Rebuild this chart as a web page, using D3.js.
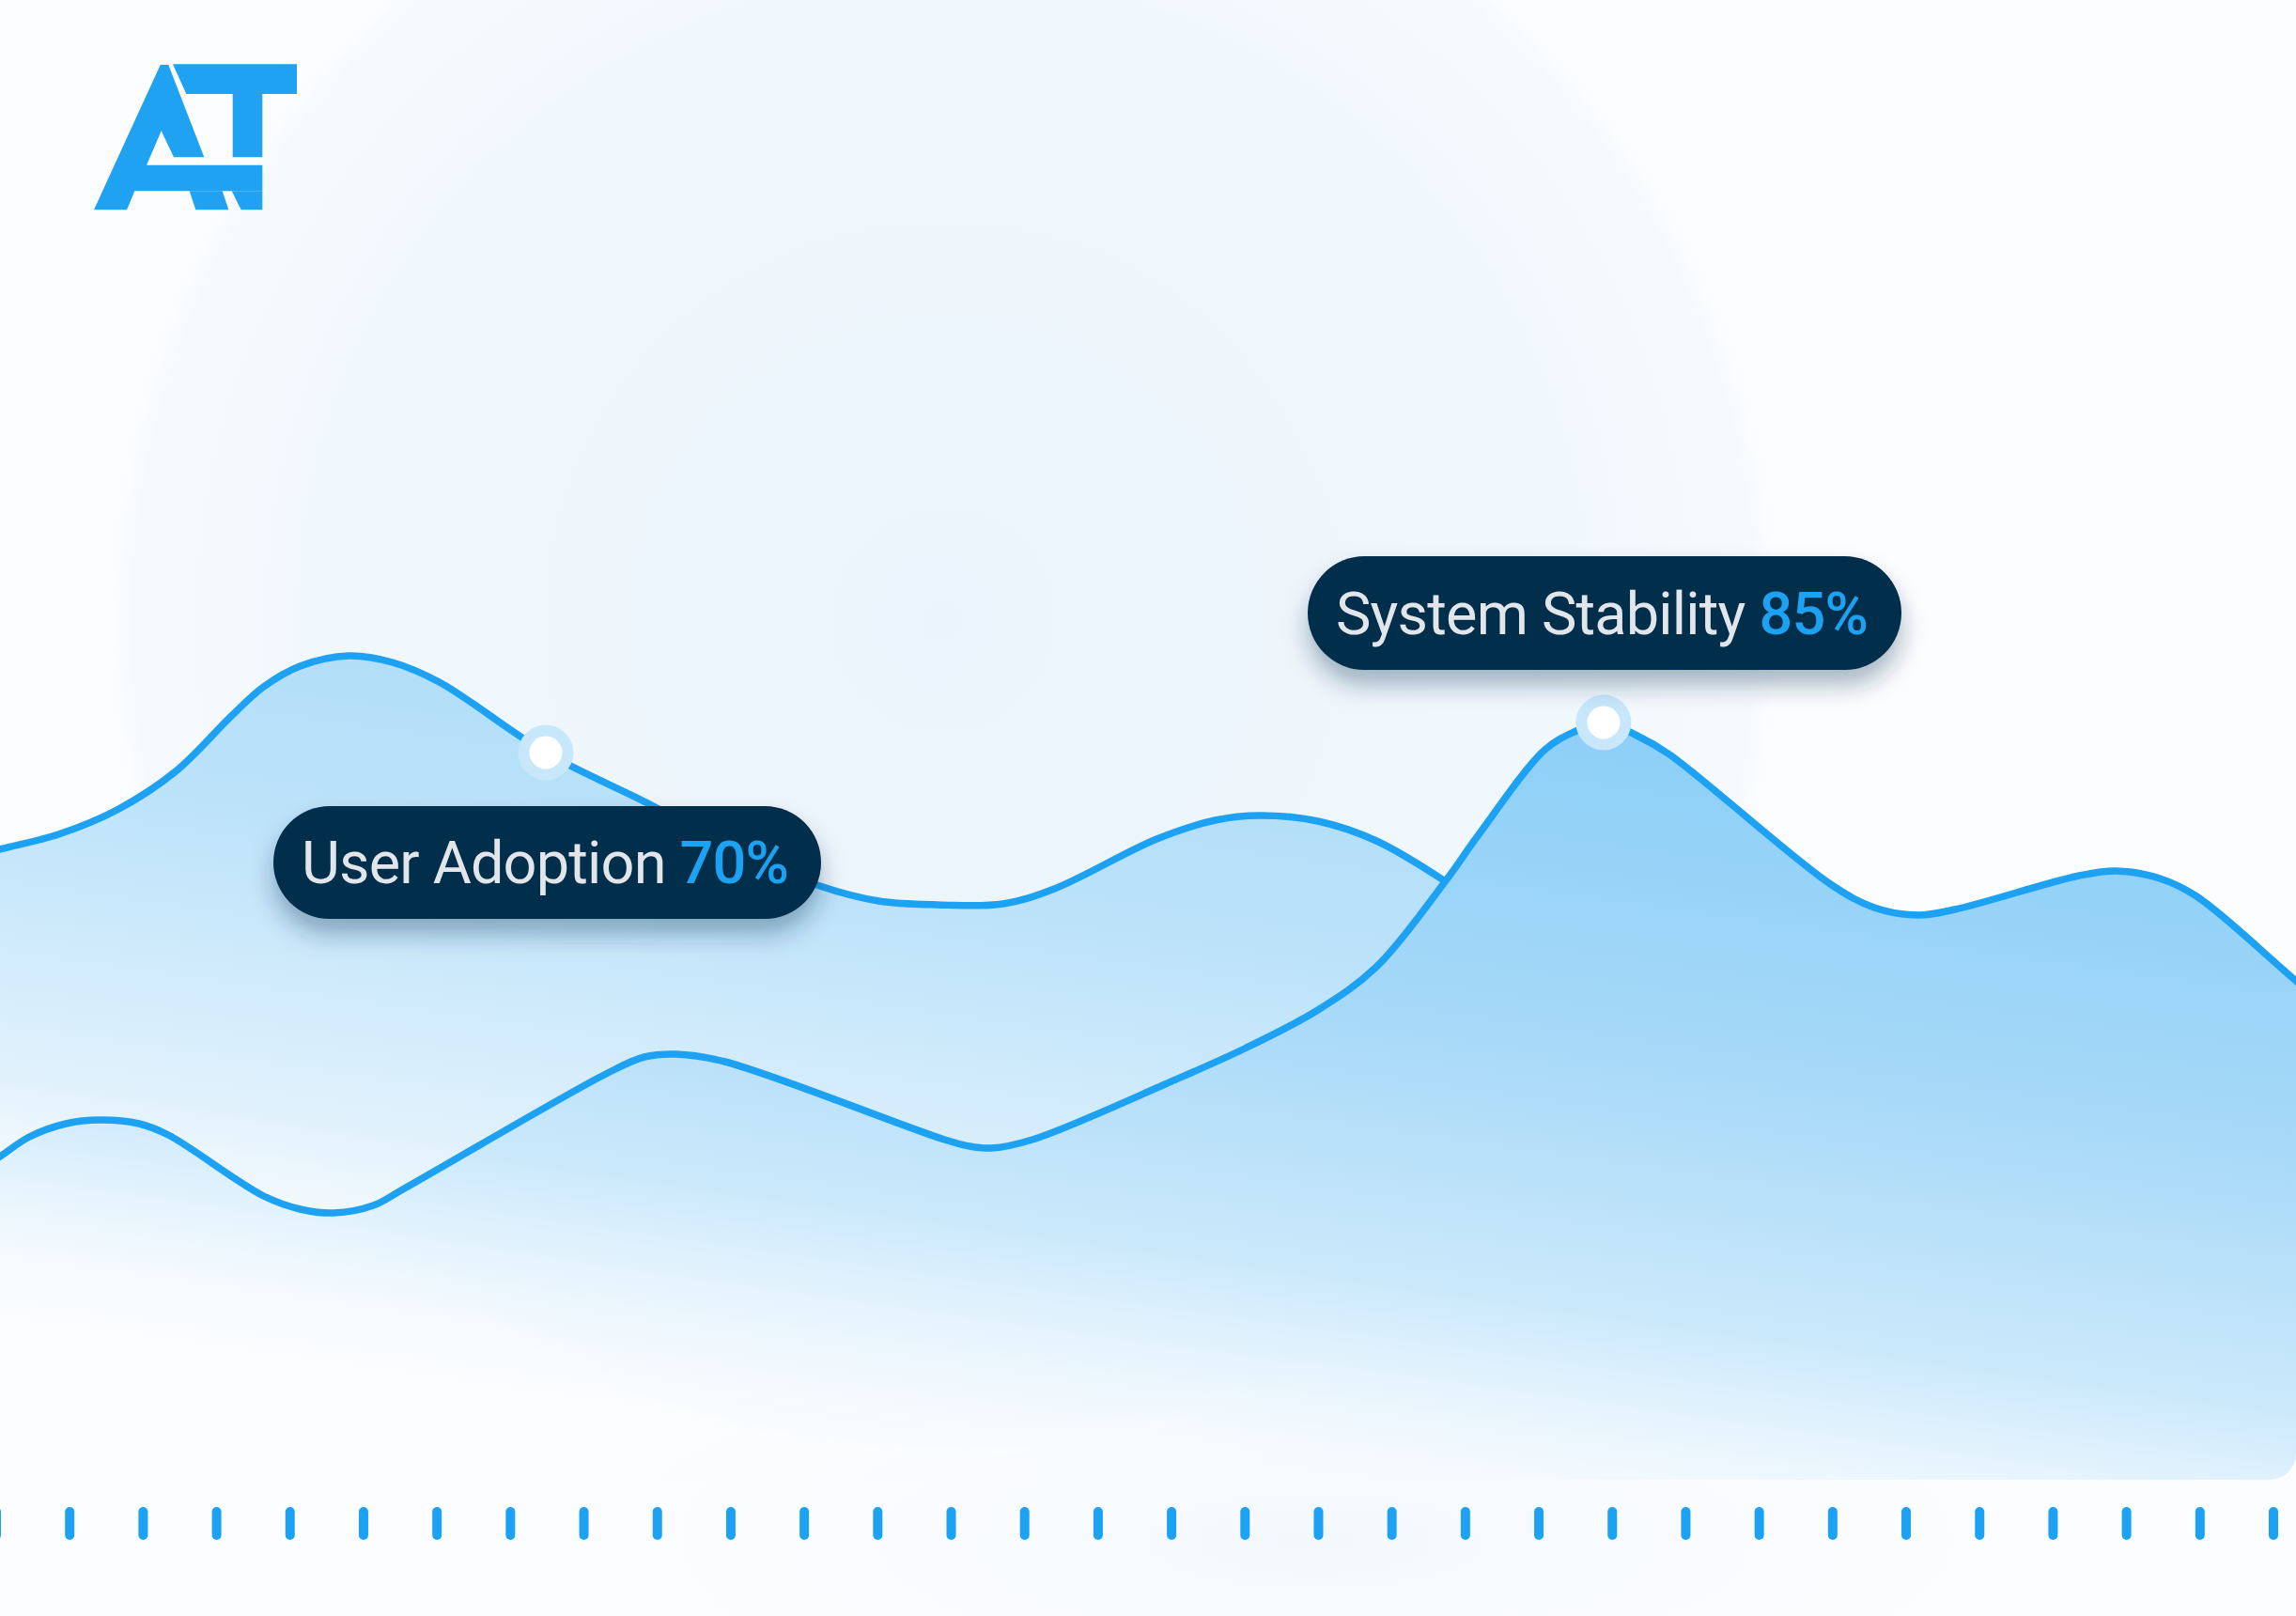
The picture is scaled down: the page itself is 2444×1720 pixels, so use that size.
<!DOCTYPE html>
<html><head><meta charset="utf-8">
<script src="https://cdn.jsdelivr.net/npm/d3@7"></script>
<style>html,body{margin:0;padding:0;background:#fcfdff;overflow:hidden}</style>
</head><body>
<svg id="chart" width="2444" height="1720"></svg>
<script>
// ---- data (x: % of chart width, y: value) ----
const adoptionX = [-1.28, 0, 2.55, 5.10, 7.65, 10.08, 11.48, 13.07, 15.18, 17.09, 19.13, 23.77, 28.38, 31.89, 35.71, 38.27, 40.82, 43.69, 45.92, 50.38, 52.93, 54.85, 57.40, 59.95, 62.95, 65.69, 70.15, 82.91, 103.32];
const adoptionY = [66.2, 67.1, 68.7, 71.3, 75.4, 81.3, 84.4, 86.6, 87.7, 87.0, 84.9, 77.4, 71.8, 67.1, 63.2, 61.6, 61.2, 61.3, 62.9, 68.2, 70.2, 70.7, 70.1, 68.0, 63.7, 59.0, 54.6, 53.1, 50.0];
const stabilityX = [-1.28, 0, 1.28, 2.87, 4.34, 6.06, 7.33, 11.48, 13.07, 14.54, 16.26, 17.54, 26.47, 28.06, 29.46, 31.57, 41.14, 42.22, 43.18, 44.96, 51.02, 54.21, 57.40, 59.95, 62.95, 64.41, 67.28, 68.56, 69.84, 71.30, 72.71, 79.72, 81.63, 83.55, 85.14, 90.56, 92.16, 94.07, 95.67, 100, 103.32];
const stabilityY = [32.3, 34.4, 36.5, 37.9, 38.3, 37.9, 36.7, 30.2, 28.8, 28.4, 29.2, 30.9, 43.3, 45.0, 45.3, 44.5, 36.2, 35.5, 35.3, 36.2, 42.4, 45.9, 50.0, 54.6, 63.7, 68.7, 77.7, 79.6, 80.6, 79.2, 77.2, 63.4, 60.9, 60.1, 60.7, 64.3, 64.8, 64.0, 62.1, 53.1, 46.2];
const tickIndex = d3.range(32);
const calloutNames = ["User Adoption", "System Stability"];
const calloutValues = ["70%", "85%"];
const calloutPointIndex = [11, 28]; // index into adoption / stability series

const W = 2444, H = 1720;
const svg = d3.select("#chart");
const defs = svg.append("defs");

const x = d3.scaleLinear().domain([0, 100]).range([0, W]);
const y = d3.scaleLinear().domain([0, 100]).range([1575, 575]);
const tx = d3.scalePoint().domain(tickIndex).range([-4, 2420]);

const adoption = adoptionX.map((v, i) => ({x: v, y: adoptionY[i]}));
const stability = stabilityX.map((v, i) => ({x: v, y: stabilityY[i]}));

// ---- defs ----
const bg = defs.append("radialGradient").attr("id", "bgGlow");
bg.append("stop").attr("offset", 0).attr("stop-color", "#ebf4fc");
bg.append("stop").attr("offset", 0.75).attr("stop-color", "#f1f8fd");
bg.append("stop").attr("offset", 0.97).attr("stop-color", "#f6fafe");
bg.append("stop").attr("offset", 1).attr("stop-color", "#fcfdff");

const bg2 = defs.append("radialGradient").attr("id", "bgGlow2");
bg2.append("stop").attr("offset", 0).attr("stop-color", "#f3f8fd");
bg2.append("stop").attr("offset", 1).attr("stop-color", "#fcfdff").attr("stop-opacity", 0);

function grad(id, stops) {
  const g = defs.append("linearGradient").attr("id", id)
    .attr("gradientUnits", "userSpaceOnUse")
    .attr("x1", 1222).attr("y1", 700).attr("x2", 1100).attr("y2", 1560);
  stops.forEach(s => g.append("stop").attr("offset", s[0]).attr("stop-color", s[1]).attr("stop-opacity", s[2] == null ? 1 : s[2]));
}
grad("fillA", [[0, "#abdbf8"], [0.35, "#bde3fa"], [0.7, "#e0f1fc"], [1, "#ffffff", 0]]);
grad("fillB", [[0, "#8ccff7"], [0.4, "#a7d9f8"], [0.72, "#cce9fb"], [1, "#f8fcff", 0.2]]);

defs.append("clipPath").attr("id", "plotClip")
  .append("rect").attr("x", -60).attr("y", 0).attr("width", W + 60).attr("height", 1575).attr("rx", 28);

const sh = defs.append("filter").attr("id", "pillShadow")
  .attr("x", "-20%").attr("y", "-40%").attr("width", "140%").attr("height", "200%");
sh.append("feDropShadow").attr("dx", 0).attr("dy", 16).attr("stdDeviation", 13)
  .attr("flood-color", "#0c2f4e").attr("flood-opacity", 0.34);

// ---- background ----
svg.append("rect").attr("width", W).attr("height", H).attr("fill", "#fcfdff");
svg.append("ellipse").attr("cx", 1400).attr("cy", 1640).attr("rx", 900).attr("ry", 260).attr("fill", "url(#bgGlow2)");
svg.append("circle").attr("cx", 1005).attr("cy", 660).attr("r", 890).attr("fill", "url(#bgGlow)");

// ---- areas ----
const curve = d3.curveCatmullRom.alpha(0.5);
const area = d3.area().x(d => x(d.x)).y0(y(-10)).y1(d => y(d.y)).curve(curve);
const line = d3.line().x(d => x(d.x)).y(d => y(d.y)).curve(curve);

const plot = svg.append("g").attr("clip-path", "url(#plotClip)");
plot.append("path").datum(adoption).attr("d", area).attr("fill", "url(#fillA)");
plot.append("path").datum(adoption).attr("d", line).attr("fill", "none")
  .attr("stroke", "#1da1f2").attr("stroke-width", 7.5).attr("stroke-linejoin", "round");
plot.append("path").datum(stability).attr("d", area).attr("fill", "url(#fillB)");
plot.append("path").datum(stability).attr("d", line).attr("fill", "none")
  .attr("stroke", "#1da1f2").attr("stroke-width", 7.5).attr("stroke-linejoin", "round");

// ---- markers ----
const markerPts = [adoption[calloutPointIndex[0]], stability[calloutPointIndex[1]]];
const mk = svg.append("g").selectAll("g").data(markerPts).join("g")
  .attr("transform", d => `translate(${x(d.x)},${y(d.y)})`);
mk.append("circle").attr("r", 29.5).attr("fill", "#c8e7fb");
mk.append("circle").attr("r", 17.5).attr("fill", "#ffffff");

// ---- callouts ----
const pills = [
  {x: 291, y: 858, w: 583, h: 120, tx: 321, ty: 940, tw: 518},
  {x: 1392, y: 592, w: 632, h: 121, tx: 1422, ty: 675, tw: 566}
];
pills.forEach((p, i) => {
  const g = svg.append("g");
  g.append("rect").attr("x", p.x).attr("y", p.y).attr("width", p.w).attr("height", p.h)
    .attr("rx", p.h / 2).attr("fill", "#042d4b").attr("filter", "url(#pillShadow)");
  const t = g.append("text").attr("x", p.tx).attr("y", p.ty)
    .attr("font-family", "Roboto, 'Noto Sans', sans-serif").attr("font-size", 63);
  t.append("tspan").attr("fill", "#e2e6ea").attr("font-weight", 400).text(calloutNames[i] + " ");
  t.append("tspan").attr("fill", "#1da1f2").attr("font-weight", 500).text(calloutValues[i]);
  const w = t.node().getComputedTextLength();
  const n = (calloutNames[i] + " " + calloutValues[i]).length;
  t.attr("letter-spacing", (p.tw - w) / n);
});

// ---- ticks ----
svg.append("g").selectAll("line").data(tickIndex).join("line")
  .attr("x1", d => tx(d)).attr("x2", d => tx(d))
  .attr("y1", 1609).attr("y2", 1634)
  .attr("stroke", "#1da1f2").attr("stroke-width", 10).attr("stroke-linecap", "round");

// ---- logo ----
const logoPolys = [
  [[170.7,69],[179.3,69],[217.3,167.3],[185,167.3],[171.7,139.3],[156,175.7],[279.3,175.7],[279.3,203.3],[143.3,203.3],[135,223.3],[100,223.3]],
  [[201.7,203.3],[236.7,203.3],[243.3,223.3],[208.3,223.3]],
  [[246.7,203.3],[279.3,203.3],[279.3,223.3],[256.7,223.3]],
  [[184,68.3],[316,68.3],[316,100],[279.3,100],[279.3,167.3],[247.7,167.3],[247.7,100],[198.3,100]]
];
svg.append("g").selectAll("polygon").data(logoPolys).join("polygon")
  .attr("points", d => d.map(p => p.join(",")).join(" "))
  .attr("fill", "#1fa2f1");
</script>
</body></html>
